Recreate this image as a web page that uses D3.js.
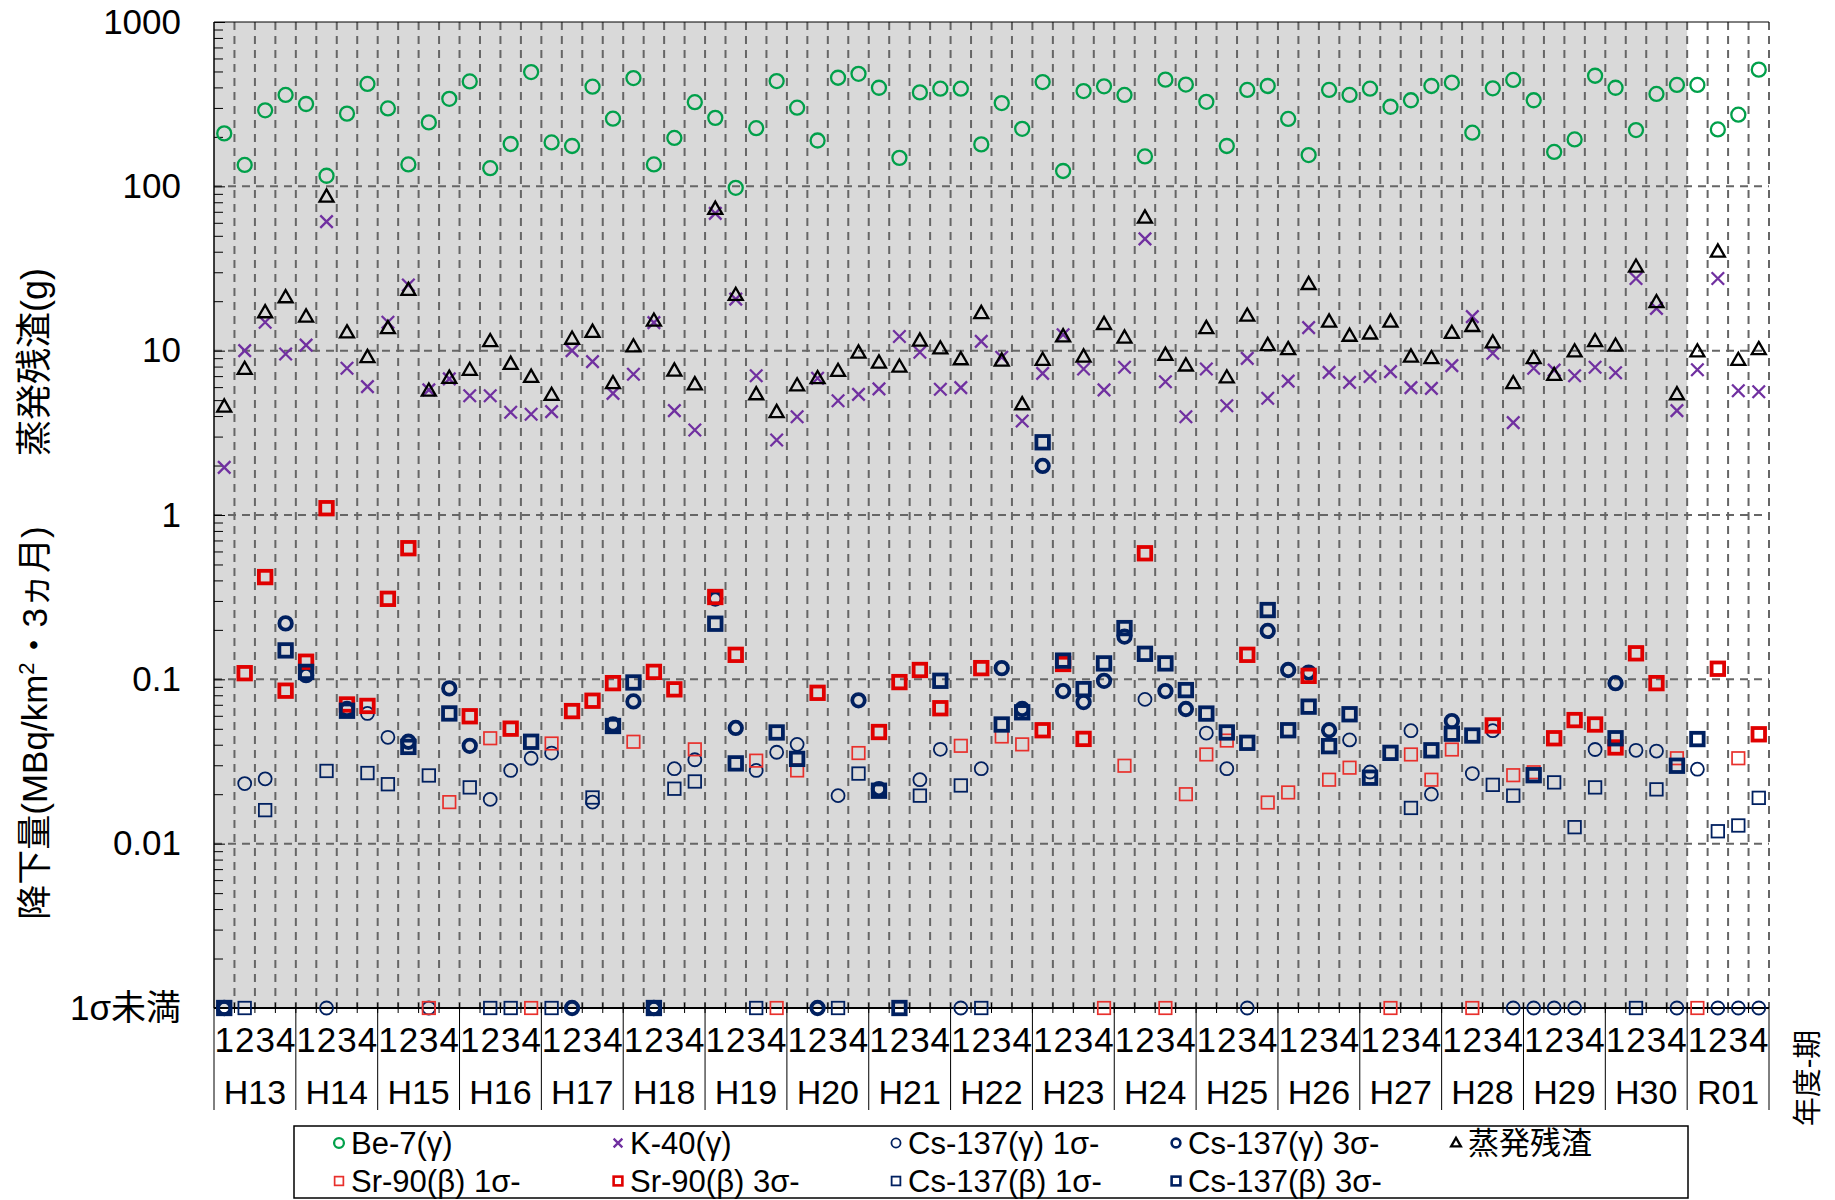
<!DOCTYPE html>
<html>
<head>
<meta charset="utf-8">
<script src="https://cdn.jsdelivr.net/npm/d3@7"></script>
<style>
body { margin: 0; background: #fff; }
text { font-family: "Liberation Sans", Arial, "Noto Sans CJK JP", sans-serif; fill: #000; }
</style>
</head>
<body>
<script>
// "1σ未満" values sit on the bottom line of the chart
const LT = "1σ未満";

const years = ["H13","H14","H15","H16","H17","H18","H19","H20","H21","H22",
               "H23","H24","H25","H26","H27","H28","H29","H30","R01"];
const periods = ["1","2","3","4"];
const yTicks = [0.001, 0.01, 0.1, 1, 10, 100, 1000];

// Be-7(γ)
const be7 = [
  210,135,290,360,  317,116,277,420,  298,136,245,341,  435,129,181,496,
  185,176,404,258,  456,136,197,325,  261,98,226,437,   301,190,458,484,
  398,149,373,393,  393,180,321,224,  431,124,380,406,  360,152,446,416,
  327,176,386,408,  257,155,386,360,  393,305,334,408,  428,212,395,444,
  334,162,193,471,  398,220,365,414,  414,222,273,513
];
// K-40(γ)
const k40 = [
  1.95,10.0,14.9,9.55,  10.8,61,7.81,6.04,  14.9,25.1,5.77,6.73,  5.32,5.32,4.22,4.10,
  4.26,10.0,8.57,5.50,  7.18,14.8,4.32,3.29,  68.5,20.6,7.04,2.86,  3.96,6.79,4.96,5.42,
  5.85,12.2,9.78,5.82,  5.96,11.4,9.12,3.73,  7.28,12.5,7.73,5.77,  7.92,47.9,6.47,3.96,
  7.73,4.62,8.98,5.13,  6.53,13.8,7.38,6.41,  6.96,7.45,5.96,5.90,  8.11,16.1,9.64,3.65,
  7.81,7.62,7.04,7.92,  7.34,27.5,18.1,4.32,  7.66,27.5,5.70,5.62
];
// 蒸発残渣
const residue = [
  4.56,7.73,17.1,21.1,  16.1,86.5,12.9,9.12,  13.7,23.4,5.70,6.82,  7.62,11.4,8.30,6.92,
  5.37,11.8,13.0,6.33,  10.6,15.2,7.55,6.23,  72.8,21.8,5.42,4.22,  6.13,6.79,7.52,9.72,
  8.45,7.98,11.5,10.3,  8.85,16.9,8.69,4.71,  8.77,12.2,9.19,14.5,  12.0,64.4,9.42,8.11,
  13.7,6.86,16.3,10.8,  10.2,25.4,15.0,12.3,  12.7,15.0,9.19,8.98,  12.8,14.1,11.2,6.33,
  8.98,7.11,9.87,11.4,  10.7,32.4,19.7,5.42,  9.87,40.0,8.77,10.2
];
// Cs-137(γ) 1σ-
const cs137g1 = [
  null,0.0232,0.0248,null,  null,LT,null,0.062,  0.0444,null,LT,null,  null,0.0186,0.0279,0.0331,
  0.0356,null,0.0179,null,  null,null,0.0286,0.0324,  null,null,0.0279,0.036,  0.0402,null,0.0196,null,
  null,null,0.0245,0.0375,  LT,0.0286,null,null,  null,null,null,null,  null,0.0755,null,null,
  0.0471,0.0286,LT,null,  null,null,null,0.0428,  0.0273,null,0.0487,0.020,  null,0.0267,0.0487,LT,
  LT,LT,LT,0.0374,  null,0.037,0.0366,LT,  0.0284,LT,LT,LT
];
// Cs-137(γ) 3σ-
const cs137g3 = [
  LT,null,null,0.219,  0.106,null,0.066,null,  null,0.0417,null,0.0881,  0.0394,null,null,null,
  null,LT,null,0.0531,  0.0734,LT,null,null,  0.31,0.0506,null,null,  null,LT,null,0.0745,
  0.0215,null,null,null,  null,null,0.117,0.066,  1.99,0.0848,0.0727,0.0979,  0.182,null,0.0848,0.066,
  null,null,null,0.197,  0.114,0.11,0.049,null,  null,null,null,null,  0.0557,null,null,null,
  null,null,null,null,  0.0948,null,null,null,  null,null,null,null
];
// Sr-90(β) 1σ-
const sr90b1 = [
  null,null,null,null,  null,null,null,null,  null,null,LT,0.0179,  null,0.0438,null,LT,
  0.0407,null,null,null,  0.0417,null,null,0.0375,  null,null,0.032,LT,  0.0279,null,null,0.0356,
  null,null,null,null,  0.0394,null,0.0449,0.0402,  null,null,null,LT,  0.0298,null,LT,0.020,
  0.0349,0.0424,null,0.0178,  0.0205,null,0.0245,0.029,  null,LT,0.0349,0.0245,  0.0374,LT,null,0.0261,
  0.0272,null,null,null,  null,null,null,0.0331,  LT,null,0.0331,null
];
// Sr-90(β) 3σ-
const sr90b3 = [
  null,0.109,0.419,0.0853,  0.128,1.10,0.0703,0.0689,  0.309,0.628,null,null,  0.0596,null,0.0501,null,
  null,0.0641,0.0741,0.0948,  null,0.111,0.0869,null,  0.317,0.141,null,null,  null,0.0828,null,null,
  0.0478,0.0962,0.114,0.0667,  null,0.117,null,null,  0.049,0.124,0.0434,null,  null,0.585,null,null,
  null,null,0.141,null,  null,0.105,null,null,  null,null,null,null,  null,null,0.0524,null,
  null,0.0438,0.0565,0.0531,  0.0385,0.144,0.0948,null,  null,0.116,null,0.0463
];
// Cs-137(β) 1σ-
const cs137b1 = [
  null,LT,0.016,null,  null,0.0277,null,0.0269,  0.023,null,0.026,null,  0.022,LT,LT,null,
  LT,null,0.0191,null,  null,null,0.0216,0.0239,  null,null,LT,null,  null,null,LT,0.0267,
  null,null,0.0196,null,  0.0226,LT,null,null,  null,null,null,null,  null,null,null,null,
  null,null,null,null,  null,null,null,null,  null,null,0.0165,null,  null,null,0.0228,0.0196,
  null,0.0236,0.0126,0.022,  null,LT,0.0214,null,  null,0.0119,0.0129,0.019
];
// Cs-137(β) 3σ-
const cs137b3 = [
  LT,null,null,0.150,  0.111,null,0.0644,null,  null,0.0388,null,0.062,  null,null,null,0.0417,
  null,null,null,0.052,  0.0957,LT,null,null,  0.218,0.0308,null,0.0475,  0.0328,null,null,null,
  0.021,LT,null,0.098,  null,null,0.0531,0.063,  2.77,0.130,0.0872,0.125,  0.205,0.143,0.125,0.086,
  0.0619,0.0475,0.0411,0.264,  0.049,0.0682,0.0392,0.0613,  0.0252,0.0357,null,0.037,  0.0467,0.0455,null,null,
  0.0261,null,null,null,  0.0438,null,null,0.0298,  0.0433,null,null,null
];

const categories = years.flatMap(y => periods.map(p => y + "-" + p));

const W = 1835, H = 1200;
const plot = {left: 214, right: 1769, top: 22, bottom: 1008};

const svg = d3.select("body").append("svg").attr("width", W).attr("height", H);

const x = d3.scaleBand().domain(categories).range([plot.left, plot.right]);
const y = d3.scaleLog().domain([0.001, 1000]).range([plot.bottom, plot.top]);
const bw = x.bandwidth();
const cx = i => x(categories[i]) + bw / 2;
const cy = v => v === LT ? y(0.001) : y(v);

// grey area H13 - H30
svg.append("rect")
  .attr("x", plot.left).attr("y", plot.top)
  .attr("width", x("H30-4") + bw - plot.left).attr("height", plot.bottom - plot.top)
  .attr("fill", "#d9d9d9");

// grid
const grid = svg.append("g").attr("stroke", "#666").attr("stroke-width", 2)
  .attr("stroke-dasharray", "8,6").attr("fill", "none");
categories.slice(1).forEach(c => {
  grid.append("line").attr("x1", x(c)).attr("x2", x(c)).attr("y1", plot.top).attr("y2", plot.bottom);
});
grid.append("line").attr("x1", plot.right).attr("x2", plot.right).attr("y1", plot.top).attr("y2", plot.bottom);
[0.01, 0.1, 1, 10, 100].forEach(v => {
  grid.append("line").attr("x1", plot.left).attr("x2", plot.right).attr("y1", y(v)).attr("y2", y(v));
});

// frame
svg.append("line").attr("x1", plot.left).attr("x2", plot.right).attr("y1", plot.top).attr("y2", plot.top)
  .attr("stroke", "#000").attr("stroke-width", 1);
svg.append("line").attr("x1", plot.left).attr("x2", plot.left).attr("y1", plot.top).attr("y2", plot.bottom)
  .attr("stroke", "#000").attr("stroke-width", 1.5);

// minor ticks on the y axis (inside)
const minor = [];
for (let e = -3; e < 3; e++) for (let m = 2; m <= 9; m++) minor.push(m * Math.pow(10, e));
svg.append("g").attr("transform", `translate(${plot.left},0)`)
  .call(d3.axisRight(y).tickValues(minor).tickSize(9).tickFormat(""))
  .call(g => g.select(".domain").remove())
  .selectAll("line").attr("stroke", "#000");
svg.append("g").attr("transform", `translate(${plot.left},0)`)
  .call(d3.axisRight(y).tickValues(yTicks).tickSize(11).tickFormat(""))
  .call(g => g.select(".domain").remove())
  .selectAll("line").attr("stroke", "#000");

// y labels
svg.append("g").attr("transform", `translate(${plot.left},0)`)
  .call(d3.axisLeft(y).tickValues(yTicks).tickSize(0).tickPadding(33)
    .tickFormat(d => d === 0.001 ? LT : d3.format("~g")(d)))
  .call(g => g.select(".domain").remove())
  .selectAll("text").style("font-size", "35px")
  .style("font-family", "'Liberation Sans', Arial, 'Noto Sans CJK JP', sans-serif");

// x axis
svg.append("line").attr("x1", plot.left).attr("x2", plot.right).attr("y1", plot.bottom).attr("y2", plot.bottom)
  .attr("stroke", "#000").attr("stroke-width", 2);
categories.slice(1).forEach(c => {
  svg.append("line").attr("x1", x(c)).attr("x2", x(c)).attr("y1", plot.bottom - 5).attr("y2", plot.bottom + 5)
    .attr("stroke", "#000").attr("stroke-width", 1);
});
d3.range(0, categories.length + 1, 4).forEach(i => {
  const xx = i < categories.length ? x(categories[i]) : plot.right;
  svg.append("line").attr("x1", xx).attr("x2", xx).attr("y1", plot.bottom).attr("y2", 1110)
    .attr("stroke", "#000").attr("stroke-width", 1);
});
svg.append("g").selectAll("text").data(categories).join("text")
  .attr("x", (d, i) => cx(i)).attr("y", 1052)
  .attr("text-anchor", "middle").style("font-size", "35px")
  .text(d => d.split("-")[1]);
svg.append("g").selectAll("text").data(years).join("text")
  .attr("x", d => x(d + "-1") + bw * 2).attr("y", 1104)
  .attr("text-anchor", "middle").style("font-size", "34px")
  .text(d => d);

// axis titles
svg.append("text").attr("transform", "translate(47,362) rotate(-90)")
  .attr("text-anchor", "middle").style("font-size", "36px").text("蒸発残渣(g)");
const t2 = svg.append("text").attr("transform", "translate(47,723) rotate(-90)")
  .attr("text-anchor", "middle").style("font-size", "35px");
t2.append("tspan").text("降下量(MBq/km");
t2.append("tspan").attr("dy", -13).style("font-size", "22px").text("2");
t2.append("tspan").attr("dy", 13).text("・3ヵ月)");
svg.append("text").attr("transform", "translate(1818,1078) rotate(-90)")
  .attr("text-anchor", "middle").style("font-size", "29px").text("年度-期");

// marker drawing
function marker(g, shape, px, py, s, color, sw) {
  if (shape === "circle") {
    g.append("circle").attr("cx", px).attr("cy", py).attr("r", s / 2)
      .attr("fill", "none").attr("stroke", color).attr("stroke-width", sw);
  } else if (shape === "square") {
    g.append("rect").attr("x", px - s / 2).attr("y", py - s / 2).attr("width", s).attr("height", s)
      .attr("fill", "none").attr("stroke", color).attr("stroke-width", sw);
  } else if (shape === "triangle") {
    const h = s * 0.87;
    g.append("path")
      .attr("d", `M${px},${py - h * 0.6}L${px + s / 2},${py + h * 0.4}L${px - s / 2},${py + h * 0.4}Z`)
      .attr("fill", "none").attr("stroke", color).attr("stroke-width", sw).attr("stroke-linejoin", "miter");
  } else if (shape === "cross") {
    const a = s / 2;
    g.append("path")
      .attr("d", `M${px - a},${py - a}L${px + a},${py + a}M${px - a},${py + a}L${px + a},${py - a}`)
      .attr("stroke", color).attr("stroke-width", sw);
  }
}

const series = [
  { name: "Be-7(γ)", data: be7, shape: "circle", size: 14, color: "#00a04a", sw: 2.3, leg: [339, 1143] },
  { name: "K-40(γ)", data: k40, shape: "cross", size: 12.5, color: "#7030a0", sw: 2.3, leg: [618, 1143] },
  { name: "Cs-137(γ) 1σ-", data: cs137g1, shape: "circle", size: 13, color: "#002060", sw: 1.8, leg: [896, 1143] },
  { name: "Cs-137(γ) 3σ-", data: cs137g3, shape: "circle", size: 12.5, color: "#002060", sw: 3.8, leg: [1176, 1143] },
  { name: "蒸発残渣", data: residue, shape: "triangle", size: 14, color: "#000", sw: 2.3, leg: [1456, 1143] },
  { name: "Sr-90(β) 1σ-", data: sr90b1, shape: "square", size: 12.5, color: "#e8302c", sw: 1.7, leg: [339, 1181] },
  { name: "Sr-90(β) 3σ-", data: sr90b3, shape: "square", size: 12.5, color: "#e00000", sw: 3.8, leg: [618, 1181] },
  { name: "Cs-137(β) 1σ-", data: cs137b1, shape: "square", size: 12.5, color: "#002060", sw: 1.8, leg: [896, 1181] },
  { name: "Cs-137(β) 3σ-", data: cs137b3, shape: "square", size: 12.5, color: "#002060", sw: 3.8, leg: [1176, 1181] }
];

const marks = svg.append("g");
series.forEach(s => {
  const g = marks.append("g");
  s.data.forEach((v, i) => {
    if (v === null) return;
    marker(g, s.shape, cx(i), cy(v), s.size, s.color, s.sw);
  });
});

// legend
svg.append("rect").attr("x", 294).attr("y", 1126).attr("width", 1394).attr("height", 72)
  .attr("fill", "#fff").attr("stroke", "#000").attr("stroke-width", 1.5);
const lg = svg.append("g");
series.forEach(s => {
  const [lx, ly] = s.leg;
  marker(lg, s.shape, lx, ly, s.size * 0.7, s.color, Math.min(s.sw, 2.6));
  lg.append("text").attr("x", lx + 12).attr("y", ly).attr("dy", "0.36em")
    .style("font-size", "31px").text(s.name);
});
</script>
</body>
</html>
